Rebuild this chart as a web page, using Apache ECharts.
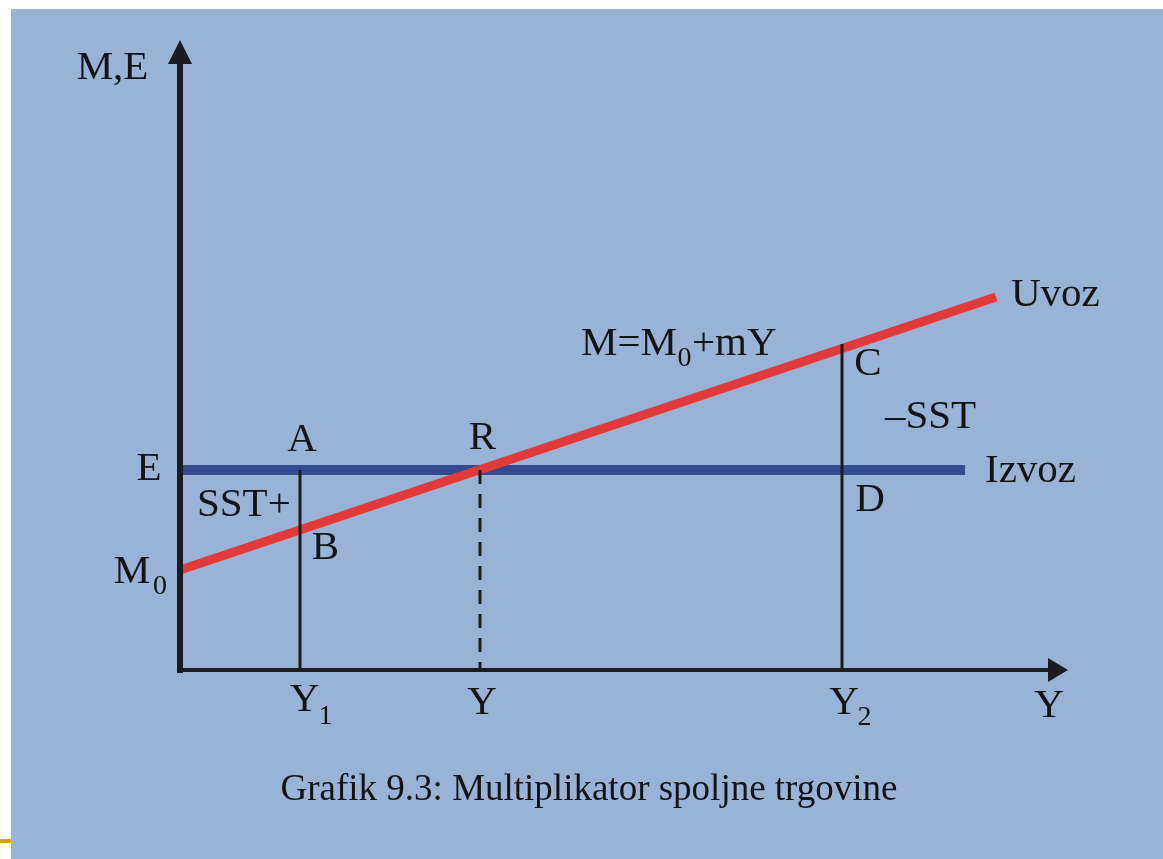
<!DOCTYPE html>
<html><head><meta charset="utf-8">
<script src="https://cdn.jsdelivr.net/npm/echarts@6/dist/echarts.min.js"></script>
<style>
html,body{margin:0;padding:0;background:#ffffff;}
#bg{position:absolute;left:11px;top:9px;width:1152px;height:850px;background:#9ab2d6;}
#mark{position:absolute;left:0;top:839px;width:11px;height:4px;background:#d4a20c;}
#c{position:absolute;left:0;top:0;width:1163px;height:859px;}
</style></head><body>
<div id="bg"></div><div id="mark"></div><div id="c"></div>
<script>
// Axis ranges (abstract units)
const xRange = [0, 878];
const yRange = [0, 618];

// Lines
const izvozLine = [[0, 200], [785, 200]];      // E: exports, horizontal
const uvozLine  = [[0, 100], [816, 373]];      // M = M0 + mY
const y1Line    = [[120, 200], [120, 0]];      // Y1 -> A
const yLine     = [[300, 200], [300, 0]];      // Y  -> R (dashed)
const y2Line    = [[662, 326], [662, 0]];      // Y2 -> C

// Text labels: [text, x, y, align]
const mainLabels = [
  ['M,E', -67.5, 602, 'center'],
  ['E', -31, 201, 'center'],
  ['M', -48, 98, 'center'],
  ['A', 122, 230, 'center'],
  ['SST+', 17, 165, 'left'],
  ['B', 145.5, 122, 'center'],
  ['R', 302.5, 232, 'center'],
  ['M=M', 401, 326, 'left'],
  ['+mY', 512, 326, 'left'],
  ['C', 688, 306, 'center'],
  ['–SST', 705, 253, 'left'],
  ['Izvoz', 805, 198.5, 'left'],
  ['D', 690, 170, 'center'],
  ['Uvoz', 831, 374.5, 'left'],
  ['Y', 124.5, -30, 'center'],
  ['Y', 302, -33, 'center'],
  ['Y', 664, -33, 'center'],
  ['Y', 869, -36.5, 'center']
];
const subLabels = [
  ['0', -20, 83, 'center'],
  ['0', 504.5, 311, 'center'],
  ['1', 145.5, -47, 'center'],
  ['2', 684.5, -47.5, 'center']
];
const caption = 'Grafik 9.3: Multiplikator spoljne trgovine';

const FONT = 'Liberation Serif';
const TXT = '#141414';
const AX = '#1c1c1e';

function lineSeries(data, color, width, type) {
  return {
    type: 'line', data: data, symbol: 'none', showSymbol: false, silent: true,
    animation: false, clip: false,
    lineStyle: { color: color, width: width, type: type || 'solid', cap: 'butt' },
    emphasis: { disabled: true }
  };
}
function labelSeries(list, size) {
  return {
    type: 'scatter', symbolSize: 0, clip: false, silent: true, animation: false, z: 20,
    data: list.map(l => ({ name: l[0], value: [l[1], l[2]], label: { align: l[3] } })),
    label: { show: true, position: [0, 0], distance: 0, formatter: '{b}', color: TXT,
             textBorderWidth: 0, opacity: 1,
             fontFamily: FONT, fontSize: size, verticalAlign: 'middle' },
    emphasis: { disabled: true }
  };
}

const chart = echarts.init(document.getElementById('c'), null, { renderer: 'canvas' });
chart.setOption({
  backgroundColor: 'transparent',
  animation: false,
  grid: { left: 180, right: 105, top: 52, bottom: 189, containLabel: false },
  xAxis: {
    type: 'value', min: xRange[0], max: xRange[1], z: 10,
    axisLine: { show: true, onZero: true, symbol: ['none', 'triangle'], symbolSize: [24, 20],
                lineStyle: { color: AX, width: 4, cap: 'square' } },
    axisTick: { show: false }, axisLabel: { show: false }, splitLine: { show: false }
  },
  yAxis: {
    type: 'value', min: yRange[0], max: yRange[1], z: 10,
    axisLine: { show: true, onZero: true, symbol: ['none', 'triangle'], symbolSize: [24, 24],
                lineStyle: { color: AX, width: 6, cap: 'square' } },
    axisTick: { show: false }, axisLabel: { show: false }, splitLine: { show: false }
  },
  series: [
    lineSeries(izvozLine, '#354a8f', 10),
    lineSeries(uvozLine, '#e03a3a', 9),
    lineSeries(y1Line, AX, 3),
    lineSeries(y2Line, AX, 3),
    lineSeries(yLine, AX, 3, [14, 10]),
    labelSeries(mainLabels, 41),
    labelSeries(subLabels, 28)
  ],
  graphic: [{
    type: 'text', x: 589, y: 790, silent: true,
    style: { text: caption, fill: TXT, font: '37px "Liberation Serif"', align: 'center', verticalAlign: 'middle' }
  }]
});
</script>
</body></html>
